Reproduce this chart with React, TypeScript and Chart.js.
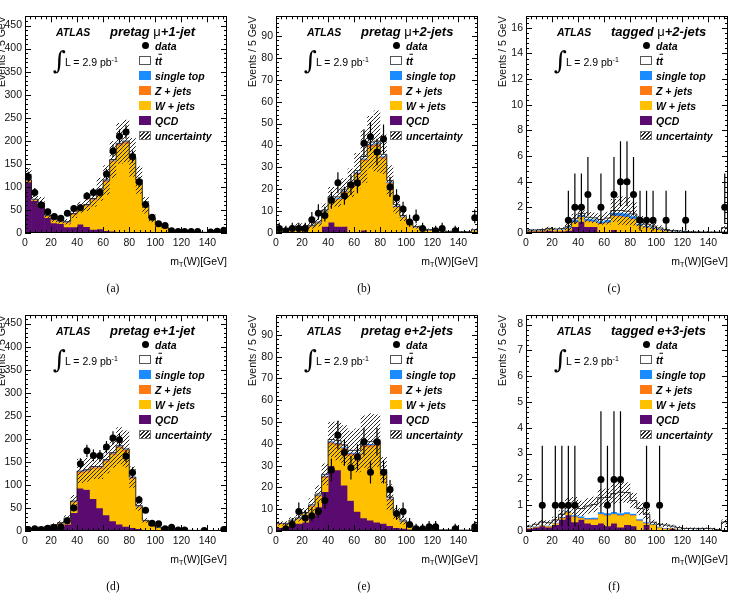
import React, { useEffect, useRef } from "react";
import { Chart, registerables } from "chart.js";
Chart.register(...registerables);

// ---------- binning ----------
const BIN_LOW_EDGES = [0, 5, 10, 15, 20, 25, 30, 35, 40, 45, 50, 55, 60, 65, 70, 75, 80, 85, 90, 95, 100, 105, 110, 115, 120, 125, 130, 135, 140, 145, 150];
const BIN_WIDTH = 5;
const X_MAX = 155;
const X_TICK_STEP = 20;
const X_MINOR_STEP = 4;

// ---------- (a) pretag mu + 1 jet ----------
const MU1J_DATA = [122, 88, 61, 46, 36, 32, 43, 53, 55, 80, 88, 88, 128, 178, 210, 219, 166, 111, 62, 34, 20, 16, 5, 3, 3, 3, 3, 0, 2, 4, 6];
const MU1J_QCD = [111, 70, 62, 33, 22, 20, 13, 13, 19, 14, 8, 9, 5, 4, 3, 2, 2, 1, 1, 0.5, 0.5, 0.3, 0.2, 0.2, 0.1, 0.1, 0.1, 0, 0, 0, 0];
const MU1J_WJETS = [1, 1, 1, 3, 6, 4, 9, 27, 34, 45, 64, 83, 106, 151, 186, 192, 158, 111, 57, 30, 16.5, 10.7, 5.2, 3.3, 2.4, 1.7, 1.6, 1.2, 1.2, 1.2, 1.6];
const MU1J_ZJETS = [3, 2, 2, 2, 2, 2, 2, 2, 2, 2, 2, 2, 3, 3, 4, 4, 3, 2, 1.5, 1, 0.5, 0.5, 0.3, 0.2, 0.2, 0.1, 0.1, 0.1, 0.1, 0.1, 0.1];
const MU1J_STOP = [0.1, 0.1, 0.1, 0.1, 0.1, 0.2, 0.2, 0.2, 0.3, 0.3, 0.4, 0.4, 0.5, 0.6, 0.6, 0.6, 0.5, 0.4, 0.3, 0.3, 0.2, 0.2, 0.1, 0.1, 0.1, 0.1, 0.1, 0.1, 0.1, 0.1, 0.1];
const MU1J_TTBAR = [0.1, 0.1, 0.1, 0.2, 0.2, 0.2, 0.3, 0.3, 0.4, 0.5, 0.5, 0.6, 0.7, 0.8, 0.8, 0.8, 0.7, 0.6, 0.5, 0.4, 0.3, 0.3, 0.2, 0.2, 0.2, 0.1, 0.1, 0.1, 0.1, 0.1, 0.2];
const MU1J_UNC = [25, 16, 13, 9, 7, 6, 6, 10, 12, 14, 18, 25, 32, 40, 44, 46, 42, 30, 18, 9, 5, 3.5, 2, 1.2, 1, 0.8, 0.8, 0.6, 0.6, 0.6, 0.8];

// ---------- (b) pretag mu + 2 jets ----------
const MU2J_DATA = [2, 1, 2, 2, 2, 6, 9, 8, 15, 23, 17, 22, 23, 41, 44, 37, 43, 21, 16, 11, 5, 7, 2, 0, 1, 2, 0, 1, 0, 0, 7];
const MU2J_QCD = [0.5, 0.3, 0.3, 0.5, 0.3, 0.2, 0.3, 3, 5, 3, 3, 0.3, 0.3, 1.3, 0.3, 0.2, 0.5, 0.2, 0.2, 0.1, 0.1, 0.3, 0.1, 0, 0, 0, 0, 0, 0, 0, 0.2];
const MU2J_WJETS = [1.3, 1.5, 2, 2.2, 2.35, 2.95, 4.15, 6.7, 10.5, 12.3, 15.6, 21.1, 26.4, 31.6, 39, 39.6, 33.5, 22.3, 11.7, 7.1, 4.4, 2.3, 1.65, 1.3, 0.85, 0.9, 0.6, 0.6, 0.5, 0.5, 1.0];
const MU2J_ZJETS = [0.1, 0.1, 0.1, 0.1, 0.1, 0.1, 0.2, 0.3, 0.4, 0.4, 0.5, 0.6, 0.7, 0.8, 0.9, 0.9, 0.8, 0.5, 0.3, 0.2, 0.1, 0.1, 0.05, 0.05, 0, 0, 0, 0, 0, 0, 0.05];
const MU2J_STOP = [0.05, 0.05, 0.05, 0.1, 0.1, 0.1, 0.15, 0.2, 0.25, 0.3, 0.3, 0.35, 0.4, 0.45, 0.5, 0.5, 0.45, 0.35, 0.25, 0.15, 0.1, 0.1, 0.05, 0.05, 0.05, 0, 0, 0, 0, 0, 0.05];
const MU2J_TTBAR = [0.05, 0.05, 0.1, 0.1, 0.15, 0.15, 0.2, 0.3, 0.4, 0.5, 0.6, 0.6, 0.7, 0.8, 0.8, 0.8, 0.7, 0.6, 0.5, 0.4, 0.3, 0.2, 0.15, 0.1, 0.1, 0.1, 0.1, 0.1, 0.1, 0.1, 0.2];
const MU2J_UNC = [0.8, 0.8, 1, 1.5, 1.5, 1.6, 2, 3, 4.5, 4.5, 5, 6.5, 8, 12, 12, 14, 9, 7, 4, 2.5, 1.5, 1, 0.6, 0.5, 0.4, 0.4, 0.3, 0.3, 0.3, 0.3, 0.5];

// ---------- (c) tagged mu + 2 jets ----------
const MU2JT_DATA = [0, 0, 0, 0, 0, 0, 1, 2, 2, 3, 0, 2, 0, 3, 4, 4, 3, 1, 1, 1, 0, 1, 0, 0, 1, 0, 0, 0, 0, 0, 2];
const MU2JT_QCD = [0.15, 0.15, 0.15, 0.2, 0.15, 0.15, 0.2, 0.5, 0.9, 0.5, 0.5, 0.05, 0.05, 0.25, 0.05, 0.05, 0.05, 0.05, 0.03, 0.03, 0.03, 0.02, 0.02, 0.02, 0.02, 0.01, 0.01, 0.01, 0.01, 0.01, 0.05];
const MU2JT_WJETS = [0.05, 0.05, 0.08, 0.1, 0.1, 0.1, 0.2, 0.35, 0.35, 0.45, 0.4, 0.7, 0.75, 1.1, 1.25, 1.2, 1.05, 0.55, 0.45, 0.35, 0.25, 0.15, 0.1, 0.08, 0.06, 0.05, 0.04, 0.04, 0.03, 0.03, 0.1];
const MU2JT_ZJETS = [0.01, 0.01, 0.01, 0.01, 0.01, 0.02, 0.02, 0.03, 0.03, 0.03, 0.03, 0.03, 0.04, 0.05, 0.05, 0.05, 0.04, 0.03, 0.02, 0.02, 0.01, 0.01, 0.01, 0.01, 0, 0, 0, 0, 0, 0, 0];
const MU2JT_STOP = [0.01, 0.01, 0.01, 0.02, 0.02, 0.03, 0.05, 0.15, 0.15, 0.15, 0.15, 0.15, 0.2, 0.2, 0.25, 0.25, 0.2, 0.1, 0.08, 0.06, 0.04, 0.03, 0.02, 0.02, 0.01, 0.01, 0.01, 0.01, 0.01, 0.01, 0.02];
const MU2JT_TTBAR = [0.02, 0.02, 0.02, 0.03, 0.03, 0.04, 0.05, 0.08, 0.1, 0.1, 0.1, 0.12, 0.12, 0.15, 0.15, 0.15, 0.15, 0.12, 0.1, 0.08, 0.06, 0.05, 0.04, 0.03, 0.03, 0.02, 0.02, 0.02, 0.02, 0.02, 0.25];
const MU2JT_UNC = [0.08, 0.08, 0.1, 0.12, 0.1, 0.1, 0.3, 0.4, 0.45, 0.4, 0.4, 0.4, 0.5, 0.9, 1.1, 1.1, 0.9, 0.5, 0.35, 0.3, 0.2, 0.15, 0.1, 0.08, 0.06, 0.05, 0.05, 0.05, 0.04, 0.04, 0.15];

// ---------- (d) pretag e + 1 jet ----------
const E1J_DATA = [3, 5, 3, 6, 7, 9, 22, 50, 146, 174, 164, 163, 182, 202, 198, 162, 127, 68, 45, 17, 16, 5, 8, 2, 2, 0, 0, 1, 0, 0, 3];
const E1J_QCD = [3, 4, 4, 6, 8, 9, 15, 40, 93, 90, 70, 50, 35, 22, 15, 10, 7, 5, 3, 2, 1.5, 1, 0.7, 0.5, 0.4, 0.3, 0.2, 0.2, 0.2, 0.2, 0.3];
const E1J_WJETS = [1.3, 1.3, 2.3, 3.2, 4.7, 7.6, 11.5, 22.3, 33.1, 39, 65.8, 85.8, 115.6, 143.6, 165.1, 163.1, 106.3, 47.5, 18.4, 8.9, 5.7, 3.4, 2.8, 1.6, 1.2, 0.9, 0.7, 0.5, 0.5, 0.5, 1.3];
const E1J_ZJETS = [0.5, 0.5, 0.5, 0.5, 1, 1, 1, 2, 3, 3, 3, 3, 3, 3, 3.5, 3.5, 2.5, 1.5, 0.8, 0.5, 0.3, 0.2, 0.2, 0.1, 0.1, 0.1, 0.1, 0.1, 0.1, 0.1, 0.1];
const E1J_STOP = [0.1, 0.1, 0.1, 0.1, 0.1, 0.2, 0.2, 0.3, 0.4, 0.4, 0.5, 0.5, 0.6, 0.6, 0.6, 0.6, 0.5, 0.4, 0.3, 0.2, 0.2, 0.1, 0.1, 0.1, 0.1, 0.1, 0.1, 0.1, 0.1, 0.1, 0.1];
const E1J_TTBAR = [0.1, 0.1, 0.1, 0.2, 0.2, 0.2, 0.3, 0.4, 0.5, 0.6, 0.7, 0.7, 0.8, 0.8, 0.8, 0.8, 0.7, 0.6, 0.5, 0.4, 0.3, 0.3, 0.2, 0.2, 0.2, 0.1, 0.1, 0.1, 0.1, 0.1, 0.2];
const E1J_UNC = [1.5, 1.5, 2, 2.5, 3, 4, 6, 13, 26, 26, 27, 27, 30, 33, 40, 40, 23, 11, 5, 2.5, 1.8, 1.2, 1, 0.6, 0.5, 0.4, 0.3, 0.3, 0.3, 0.3, 0.5];

// ---------- (e) pretag e + 2 jets ----------
const E2J_DATA = [0, 1, 3, 9, 6, 7, 9, 14, 28, 44, 36, 29, 34, 41, 27, 41, 27, 19, 8, 9, 3, 1, 1, 2, 2, 0, 0, 1, 0, 0, 2];
const E2J_QCD = [1.5, 2, 3, 3.5, 4, 7, 11, 18, 30, 28, 21, 14, 9, 6, 5, 4, 3.5, 2.5, 1.5, 1.2, 0.8, 0.5, 0.4, 0.3, 0.2, 0.2, 0.1, 0.1, 0.1, 0.1, 0.2];
const E2J_WJETS = [1.8, 1.25, 1.65, 2.05, 3.9, 4.2, 5, 6.5, 9.9, 11.2, 16.1, 20.7, 25.7, 32.55, 33.55, 35.05, 22.65, 11.8, 5.7, 3.25, 1.8, 0.75, 0.4, 0.35, 0.37, 0.2, 0.32, 0.22, 0.22, 0.22, 0.65];
const E2J_ZJETS = [0.1, 0.1, 0.2, 0.2, 0.3, 0.4, 0.5, 0.7, 1, 1, 1, 0.9, 0.9, 1, 1, 1, 0.7, 0.4, 0.2, 0.1, 0.1, 0.05, 0.05, 0.02, 0.02, 0.02, 0.01, 0.01, 0.01, 0.01, 0.02];
const E2J_STOP = [0.05, 0.05, 0.05, 0.1, 0.1, 0.15, 0.2, 0.3, 0.4, 0.5, 0.5, 0.5, 0.5, 0.55, 0.55, 0.55, 0.45, 0.3, 0.2, 0.15, 0.1, 0.05, 0.05, 0.03, 0.03, 0.02, 0.02, 0.02, 0.02, 0.02, 0.03];
const E2J_TTBAR = [0.05, 0.1, 0.1, 0.15, 0.2, 0.25, 0.3, 0.5, 0.7, 0.8, 0.9, 0.9, 0.9, 0.9, 0.9, 0.9, 0.7, 0.5, 0.4, 0.3, 0.2, 0.15, 0.1, 0.1, 0.08, 0.06, 0.05, 0.05, 0.05, 0.05, 0.1];
const E2J_UNC = [1, 1, 1.3, 1.6, 2, 3, 4, 5, 8, 9, 9, 9, 10, 12, 13, 12, 6, 6, 3, 2, 1, 0.5, 0.4, 0.3, 0.3, 0.2, 0.2, 0.2, 0.2, 0.2, 0.3];

// ---------- (f) tagged e + 3 jets ----------
const E3JT_DATA = [0, 0, 1, 0, 1, 1, 1, 1, 0, 0, 0, 2, 1, 2, 2, 0, 0, 0, 1, 0, 1, 0, 0, 0, 0, 0, 0, 0, 0, 0, 0];
const E3JT_QCD = [0.1, 0.15, 0.2, 0.15, 0.25, 0.45, 0.62, 0.35, 0.45, 0.3, 0.25, 0.3, 0.2, 0.3, 0.15, 0.25, 0.2, 0.05, 0.25, 0.05, 0.05, 0.05, 0.1, 0.05, 0.02, 0.02, 0.05, 0.03, 0.02, 0.02, 0.02];
const E3JT_WJETS = [0.02, 0.02, 0.03, 0.04, 0.05, 0.05, 0.1, 0.2, 0.05, 0.15, 0.2, 0.35, 0.4, 0.35, 0.45, 0.4, 0.4, 0.35, 0.05, 0.2, 0.1, 0.05, 0.03, 0.02, 0.02, 0.02, 0.01, 0.01, 0.01, 0.01, 0.02];
const E3JT_ZJETS = [0.01, 0.01, 0.01, 0.01, 0.01, 0.02, 0.02, 0.02, 0.02, 0.02, 0.02, 0.02, 0.02, 0.02, 0.02, 0.02, 0.02, 0.02, 0.01, 0.01, 0.01, 0.01, 0, 0, 0, 0, 0, 0, 0, 0, 0];
const E3JT_STOP = [0.01, 0.01, 0.01, 0.02, 0.02, 0.03, 0.04, 0.05, 0.05, 0.05, 0.06, 0.07, 0.08, 0.08, 0.08, 0.07, 0.06, 0.05, 0.04, 0.03, 0.02, 0.02, 0.01, 0.01, 0.01, 0.01, 0.01, 0.01, 0.01, 0.01, 0.01];
const E3JT_TTBAR = [0.05, 0.07, 0.1, 0.1, 0.1, 0.1, 0.2, 0.35, 0.3, 0.45, 0.5, 0.55, 0.6, 0.7, 0.8, 0.75, 0.5, 0.4, 0.3, 0.05, 0.08, 0.1, 0.05, 0.05, 0.05, 0.05, 0.03, 0.05, 0.05, 0.02, 0.3];
const E3JT_UNC = [0.05, 0.08, 0.1, 0.1, 0.12, 0.15, 0.3, 0.35, 0.3, 0.3, 0.3, 0.35, 0.35, 0.4, 0.4, 0.4, 0.3, 0.25, 0.2, 0.1, 0.08, 0.08, 0.05, 0.05, 0.04, 0.04, 0.03, 0.04, 0.04, 0.02, 0.1];

// 68% CL Poisson (Garwood) interval bounds for small counts
const POISSON_LOW = [0, 0.173, 0.708, 1.367, 2.086, 2.84, 3.62, 4.419, 5.232, 6.057, 6.891];
const POISSON_HIGH = [1.841, 3.3, 4.638, 5.918, 7.163, 8.382, 9.584, 10.77, 11.95, 13.11, 14.27];

const LEGEND_LABELS = ["data", "tt", "single top", "Z + jets", "W + jets", "QCD", "uncertainty"];
const Y_TITLE = "Events / 5 GeV";

const COLORS = {
  qcd: "#5a0b6f",
  wjets: "#ffc000",
  zjets: "#ff7a12",
  stop: "#1a8cff",
  ttbar: "#ffffff",
};

const SANS = "'Liberation Sans', Arial, Helvetica, sans-serif";
const SERIF = "'Liberation Serif', 'Times New Roman', serif";

// geometry
const PW = 202; // plot width
const AXW = 34; // y-axis box width
const PADT = 8;
const PADR = 6;
const XAH = 22;

type PanelCfg = {
  key: string;
  left: number;
  top: number;
  h: number;
  yMax: number;
  yStep: number;
  yMinor: number;
  region: string;
  lepton: string;
  jets: string;
  caption: string;
  data: number[];
  qcd: number[];
  wjets: number[];
  zjets: number[];
  stop: number[];
  ttbar: number[];
  unc: number[];
};

const PANELS: PanelCfg[] = [
  { key: "a", left: 25, top: 15, h: 218, yMax: 470, yStep: 50, yMinor: 10, region: "pretag", lepton: "μ", jets: "+1-jet", caption: "(a)",
    data: MU1J_DATA, qcd: MU1J_QCD, wjets: MU1J_WJETS, zjets: MU1J_ZJETS, stop: MU1J_STOP, ttbar: MU1J_TTBAR, unc: MU1J_UNC },
  { key: "b", left: 276, top: 15, h: 218, yMax: 99, yStep: 10, yMinor: 2, region: "pretag", lepton: "μ", jets: "+2-jets", caption: "(b)",
    data: MU2J_DATA, qcd: MU2J_QCD, wjets: MU2J_WJETS, zjets: MU2J_ZJETS, stop: MU2J_STOP, ttbar: MU2J_TTBAR, unc: MU2J_UNC },
  { key: "c", left: 526, top: 15, h: 218, yMax: 16.9, yStep: 2, yMinor: 0.4, region: "tagged", lepton: "μ", jets: "+2-jets", caption: "(c)",
    data: MU2JT_DATA, qcd: MU2JT_QCD, wjets: MU2JT_WJETS, zjets: MU2JT_ZJETS, stop: MU2JT_STOP, ttbar: MU2JT_TTBAR, unc: MU2JT_UNC },
  { key: "d", left: 25, top: 314, h: 217, yMax: 468, yStep: 50, yMinor: 10, region: "pretag", lepton: "e", jets: "+1-jet", caption: "(d)",
    data: E1J_DATA, qcd: E1J_QCD, wjets: E1J_WJETS, zjets: E1J_ZJETS, stop: E1J_STOP, ttbar: E1J_TTBAR, unc: E1J_UNC },
  { key: "e", left: 276, top: 314, h: 217, yMax: 99, yStep: 10, yMinor: 2, region: "pretag", lepton: "e", jets: "+2-jets", caption: "(e)",
    data: E2J_DATA, qcd: E2J_QCD, wjets: E2J_WJETS, zjets: E2J_ZJETS, stop: E2J_STOP, ttbar: E2J_TTBAR, unc: E2J_UNC },
  { key: "f", left: 526, top: 314, h: 217, yMax: 8.36, yStep: 1, yMinor: 0.2, region: "tagged", lepton: "e", jets: "+3-jets", caption: "(f)",
    data: E3JT_DATA, qcd: E3JT_QCD, wjets: E3JT_WJETS, zjets: E3JT_ZJETS, stop: E3JT_STOP, ttbar: E3JT_TTBAR, unc: E3JT_UNC },
];

function makeHatch(): CanvasPattern | string {
  const c = document.createElement("canvas");
  c.width = 4;
  c.height = 4;
  const g = c.getContext("2d");
  if (!g) return "rgba(0,0,0,0.3)";
  g.strokeStyle = "#262626";
  g.lineWidth = 1;
  g.beginPath();
  g.moveTo(0, 4);
  g.lineTo(4, 0);
  g.moveTo(-1, 1);
  g.lineTo(1, -1);
  g.moveTo(3, 5);
  g.lineTo(5, 3);
  g.stroke();
  return g.createPattern(c, "repeat") || "rgba(0,0,0,0.3)";
}

function poissonInterval(n: number): [number, number] {
  if (n < POISSON_LOW.length) return [POISSON_LOW[n], POISSON_HIGH[n]];
  const s = Math.sqrt(n);
  return [n - s, n + s];
}

const frameTicks = {
  id: "frameTicks",
  afterDatasetsDraw(chart: any, _args: any, opts: any) {
    const { ctx, chartArea } = chart;
    const { left, right, top, bottom } = chartArea;
    const xs = chart.scales.x;
    const ys = chart.scales.y;
    ctx.save();
    ctx.strokeStyle = "#000";
    ctx.lineWidth = 1;
    ctx.beginPath();
    const eps = 1e-6;
    for (let v = 0; v <= X_MAX + eps; v += opts.xMinor) {
      const px = Math.round(xs.getPixelForValue(v)) + 0.5;
      const major = Math.abs(v / opts.xMajor - Math.round(v / opts.xMajor)) < 1e-6;
      const L = major ? 6 : 3;
      ctx.moveTo(px, bottom);
      ctx.lineTo(px, bottom - L);
      ctx.moveTo(px, top);
      ctx.lineTo(px, top + L);
    }
    for (let i = 0; i * opts.yMinor <= opts.yMax + eps; i++) {
      const v = i * opts.yMinor;
      const py = Math.round(ys.getPixelForValue(v)) + 0.5;
      const major = Math.abs(v / opts.yMajor - Math.round(v / opts.yMajor)) < 1e-6;
      const L = major ? 6 : 3;
      ctx.moveTo(left, py);
      ctx.lineTo(left + L, py);
      ctx.moveTo(right, py);
      ctx.lineTo(right - L, py);
    }
    ctx.stroke();
    ctx.strokeRect(Math.round(left) + 0.5, Math.round(top) + 0.5, Math.round(right - left) - 1, Math.round(bottom - top) - 1);
    ctx.restore();
  },
};

function PanelChart({ p }: { p: PanelCfg }) {
  const ref = useRef<HTMLCanvasElement>(null);
  const cw = AXW + PW + PADR;
  const ch = PADT + p.h + XAH;

  useEffect(() => {
    const canvas = ref.current;
    if (!canvas) return;
    const hatch = makeHatch();
    const centers = BIN_LOW_EDGES.map((e) => e + BIN_WIDTH / 2);
    const comps = [
      { vals: p.qcd, color: COLORS.qcd },
      { vals: p.wjets, color: COLORS.wjets },
      { vals: p.zjets, color: COLORS.zjets },
      { vals: p.stop, color: COLORS.stop },
      { vals: p.ttbar, color: COLORS.ttbar },
    ];
    const cum = centers.map(() => 0);
    const compSets: any[] = comps.map((c, k) => {
      const d: any[] = [];
      centers.forEach((x, i) => {
        const lo = cum[i];
        const v = c.vals[i];
        cum[i] = lo + v;
        if (v > 0) d.push({ x, y: [lo, lo + v] });
      });
      return {
        type: "bar",
        data: d,
        backgroundColor: c.color,
        borderWidth: 0,
        grouped: false,
        barPercentage: 1,
        categoryPercentage: 1,
        order: 10 - k,
      };
    });
    const totals = cum.slice();

    const hatchSet = {
      type: "bar",
      data: centers.map((x, i) => ({ x, y: [Math.max(0, totals[i] - p.unc[i]), totals[i] + p.unc[i]] })),
      backgroundColor: hatch,
      borderWidth: 0,
      grouped: false,
      barPercentage: 1,
      categoryPercentage: 1,
      inflateAmount: 0,
      order: 3,
    };

    const outline = {
      type: "line",
      data: [
        ...BIN_LOW_EDGES.map((e, i) => ({ x: e, y: totals[i] })),
        { x: X_MAX, y: totals[totals.length - 1] },
      ],
      stepped: true,
      borderColor: "#1a1a1a",
      borderWidth: 0.9,
      pointRadius: 0,
      fill: false,
      order: 4,
    };

    const pts: any[] = [];
    const errs: any[] = [];
    centers.forEach((x, i) => {
      const n = p.data[i];
      if (n > 0) {
        pts.push({ x, y: n });
        errs.push({ x, y: poissonInterval(n) });
      }
    });

    const errSet = {
      type: "bar",
      data: errs,
      backgroundColor: "#000",
      borderWidth: 0,
      grouped: false,
      barPercentage: 1,
      categoryPercentage: 1,
      maxBarThickness: 1.2,
      inflateAmount: 0,
      order: 1,
    };
    const ptSet = {
      type: "line",
      data: pts,
      showLine: false,
      pointRadius: 3.5,
      pointBackgroundColor: "#000",
      pointBorderWidth: 0,
      order: 0,
    };

    const tickFont = { family: SANS, size: 10.5 };
    const chart = new Chart(canvas, {
      type: "bar",
      data: { datasets: [ptSet, errSet, hatchSet, outline, ...compSets] as any },
      options: {
        animation: false,
        responsive: false,
        devicePixelRatio: 1,
        events: [],
        layout: { padding: { top: PADT, right: PADR, left: 0, bottom: 0 } },
        plugins: {
          legend: { display: false },
          tooltip: { enabled: false },
          frameTicks: { xMajor: X_TICK_STEP, xMinor: X_MINOR_STEP, yMajor: p.yStep, yMinor: p.yMinor, yMax: p.yMax },
        } as any,
        scales: {
          x: {
            type: "linear",
            min: 0,
            max: X_MAX,
            offset: false,
            grid: { display: false, drawTicks: false },
            border: { display: false },
            ticks: { stepSize: X_TICK_STEP, includeBounds: false, padding: 4, color: "#111", font: tickFont, maxRotation: 0, autoSkip: false },
            afterFit: (s: any) => {
              s.height = XAH;
            },
          },
          y: {
            type: "linear",
            min: 0,
            max: p.yMax,
            grid: { display: false, drawTicks: false },
            border: { display: false },
            ticks: { stepSize: p.yStep, includeBounds: false, padding: 3, color: "#111", font: tickFont },
            title: { display: true, text: Y_TITLE, align: "end", color: "#111", font: { family: SANS, size: 10.5 }, padding: { top: 4.7, bottom: 0 } },
            afterFit: (s: any) => {
              s.width = AXW;
            },
          },
        } as any,
      },
      plugins: [frameTicks as any],
    });
    return () => chart.destroy();
  }, [p]);

  return (
    <canvas
      ref={ref}
      width={cw}
      height={ch}
      style={{ position: "absolute", left: p.left - AXW, top: p.top - PADT, width: cw, height: ch }}
    />
  );
}

function Swatch({ kind }: { kind: number }) {
  const base: React.CSSProperties = { position: "absolute", width: 12, height: 9, left: 0, top: -4.5, boxSizing: "border-box" };
  if (kind === 0)
    return <div style={{ position: "absolute", left: 2.5, top: -3.5, width: 7, height: 7, borderRadius: "50%", background: "#000" }} />;
  if (kind === 1) return <div style={{ ...base, background: "#fff", border: "1px solid #555" }} />;
  if (kind === 2) return <div style={{ ...base, background: COLORS.stop }} />;
  if (kind === 3) return <div style={{ ...base, background: COLORS.zjets }} />;
  if (kind === 4) return <div style={{ ...base, background: COLORS.wjets }} />;
  if (kind === 5) return <div style={{ ...base, background: COLORS.qcd }} />;
  return (
    <div
      style={{
        ...base,
        background: "repeating-linear-gradient(135deg, #262626 0px, #262626 1px, transparent 1px, transparent 2.8px)",
        border: "1px solid #777",
      }}
    />
  );
}

function Overlay({ p }: { p: PanelCfg }) {
  const L = p.left;
  const T = p.top;
  const at = (x: number, y: number, extra: React.CSSProperties): React.CSSProperties => ({
    position: "absolute",
    left: L + x,
    top: T + y,
    transform: "translateY(-50%)",
    whiteSpace: "nowrap",
    lineHeight: 1,
    fontFamily: SANS,
    color: "#000",
    ...extra,
  });
  const bi: React.CSSProperties = { fontWeight: 700, fontStyle: "italic" };
  return (
    <>
      <div style={at(31, 17, { fontSize: 10.5, ...bi })}>ATLAS</div>
      <div style={at(85, 16, { fontSize: 13, ...bi })}>
        {p.region}{" "}
        {p.lepton === "μ" ? <span style={{ fontWeight: 400, fontStyle: "normal" }}>μ</span> : p.lepton}
        {p.jets}
      </div>
      <div style={at(28, 45, { fontSize: 25, fontFamily: "'DejaVu Serif', serif" })}>∫</div>
      <div style={at(40, 47, { fontSize: 10.5 })}>
        L = 2.9 pb<span style={{ fontSize: 7, position: "relative", top: -4 }}>-1</span>
      </div>
      {LEGEND_LABELS.map((lab, k) => (
        <React.Fragment key={lab}>
          <div style={{ position: "absolute", left: L + 114, top: T + 30.5 + 15 * k, width: 12, height: 0 }}>
            <Swatch kind={k} />
          </div>
          <div style={at(130, 30.5 + 15 * k, { fontSize: 10.5, ...bi })}>
            {k === 1 ? (
              <>
                t<span style={{ textDecoration: "overline" }}>t</span>
              </>
            ) : (
              lab
            )}
          </div>
        </React.Fragment>
      ))}
      <div style={{ ...at(PW, p.h + 27.5, { fontSize: 10.5 }), transform: "translate(-100%, -50%)" }}>
        m<span style={{ fontSize: 7, position: "relative", top: 2 }}>T</span>(W)[GeV]
      </div>
      <div style={{ ...at(88, p.h + 56, { fontSize: 11.5, fontFamily: SERIF }), transform: "translate(-50%, -50%)" }}>{p.caption}</div>
    </>
  );
}

export default function App() {
  return (
    <div style={{ position: "absolute", left: 0, top: 0, width: 734, height: 600, overflow: "hidden", background: "#fff" }}>
      {PANELS.map((p) => (
        <React.Fragment key={p.key}>
          <PanelChart p={p} />
          <Overlay p={p} />
        </React.Fragment>
      ))}
    </div>
  );
}
